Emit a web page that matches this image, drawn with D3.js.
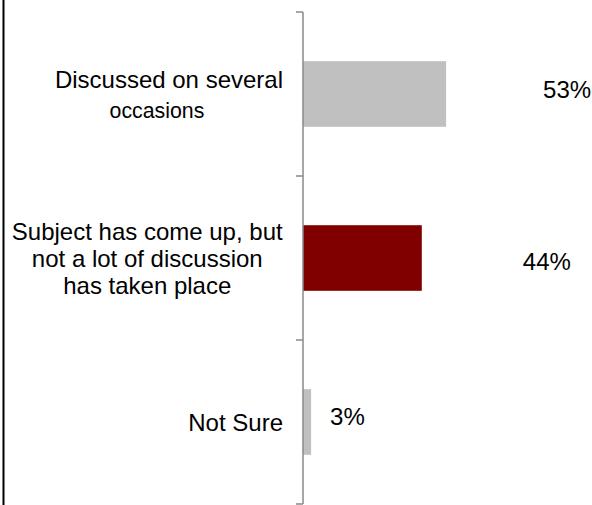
<!DOCTYPE html>
<html>
<head>
<meta charset="utf-8">
<script src="https://cdn.jsdelivr.net/npm/d3@7"></script>
<style>
  body { margin: 0; background: #fff; }
  svg { display: block; }
  text { font-family: Arial, "Liberation Sans", sans-serif; fill: #000; }
</style>
</head>
<body>
<script>
// answer categories (line breaks as in the original slide)
var categories = [
  "Discussed on several\noccasions",
  "Subject has come up, but\nnot a lot of discussion\nhas taken place",
  "Not Sure"
];
// share of respondents, %
var values = [53, 44, 3];
var valueLabels = ["53%", "44%", "3%"];

var barColors = ["#c0c0c0", "#800000", "#c0c0c0"];

// hand placed data labels in the original (offset from bar end / band centre)
var labelDx = [97, 101, 19];
var labelDy = [4, 12, 3];

var width = 592, height = 505;
var axisX = 303;

var svg = d3.select("body").append("svg")
  .attr("width", width)
  .attr("height", height);

// frame edge on the left
svg.append("line")
  .attr("x1", 3.5).attr("x2", 3.5)
  .attr("y1", 0).attr("y2", height)
  .attr("stroke", "#000")
  .attr("stroke-width", 2);

var y = d3.scaleBand()
  .domain(d3.range(categories.length))
  .range([12, 504])
  .paddingInner(0.6)
  .paddingOuter(0.3);

var x = d3.scaleLinear()
  .domain([0, 100])
  .range([axisX, axisX + 270]);

// bars
svg.selectAll("rect.bar")
  .data(values)
  .enter()
  .append("rect")
    .attr("class", "bar")
    .attr("x", x(0))
    .attr("y", function(d, i) { return y(i); })
    .attr("width", function(d) { return x(d) - x(0); })
    .attr("height", y.bandwidth())
    .attr("fill", function(d, i) { return barColors[i]; });

// category axis: ticks between the bands
var tickPos = d3.range(categories.length + 1).map(function(i) {
  return 12 + i * y.step();
});
var axis = svg.append("g").attr("stroke", "#8a8a8a").attr("stroke-width", 1.5);
axis.append("line")
  .attr("x1", axisX).attr("x2", axisX)
  .attr("y1", tickPos[0]).attr("y2", tickPos[tickPos.length - 1]);
axis.selectAll("line.tick")
  .data(tickPos)
  .enter()
  .append("line")
    .attr("class", "tick")
    .attr("x1", axisX - 7).attr("x2", axisX)
    .attr("y1", function(d) { return d; })
    .attr("y2", function(d) { return d; });

// category labels, right edge at 283, lines centred in the block
var smallLines = { "occasions": 21.3 };
var lineDx = { "occasions": -12 };
categories.forEach(function(c, i) {
  var lines = c.split("\n");
  var lh = lines.length == 2 ? 30 : 27;
  var cy = y(i) + y.bandwidth() / 2;
  var first = cy - (lines.length - 1) * lh / 2 + 8.5;
  var g = svg.append("g");
  var t = g.append("text").attr("text-anchor", "middle");
  lines.forEach(function(l, j) {
    t.append("tspan")
      .attr("x", lineDx[l] || 0)
      .attr("y", first + j * lh)
      .style("font-size", (smallLines[l] || 24) + "px")
      .text(l);
  });
  var bb = t.node().getBBox();
  g.attr("transform", "translate(" + (283 - (bb.x + bb.width)) + ",0)");
});

// value labels
svg.selectAll("text.val")
  .data(values)
  .enter()
  .append("text")
    .attr("class", "val")
    .attr("x", function(d, i) { return x(d) + labelDx[i]; })
    .attr("y", function(d, i) { return y(i) + y.bandwidth() / 2 + labelDy[i]; })
    .style("font-size", "24px")
    .text(function(d, i) { return valueLabels[i]; });
</script>
</body>
</html>
